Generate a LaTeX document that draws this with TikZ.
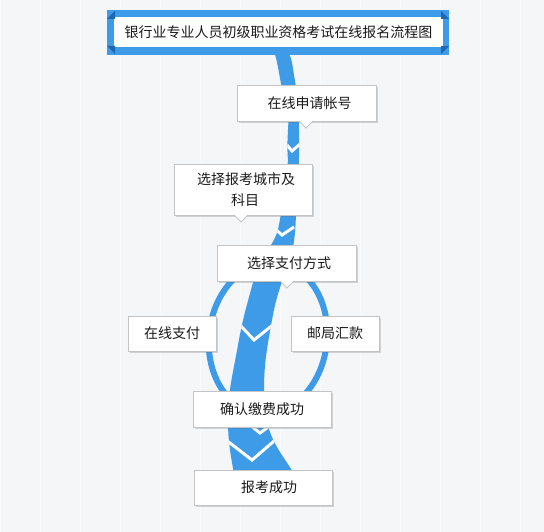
\documentclass[tikz,border=0pt]{standalone}
\usepackage{fontspec}
\setmainfont{Noto Sans CJK SC}
\usetikzlibrary{shadows}
\definecolor{bg}{HTML}{F4F6F8}
\definecolor{bandblue}{HTML}{3E9BE8}
\definecolor{darkblue}{HTML}{1D68B4}
\definecolor{boxline}{HTML}{C4C4C4}
\definecolor{txt}{HTML}{1A1A1A}
\tikzset{
  stepbox/.style={draw=boxline, line width=0.8pt, fill=white, inner sep=0pt,
    text=txt, font=\fontsize{14}{21}\selectfont,
    drop shadow={shadow xshift=2pt, shadow yshift=-2pt, opacity=0.25, fill=black!60}},
  chev/.style={draw=white, line width=3pt, line join=miter},
  notch/.style={fill=white},
  notchline/.style={draw=boxline, line width=0.8pt},
}
\newcommand{\bandpath}{(270,52) to[out=70,in=-105] (288,100) to[out=-85,in=95] (288,160)
  to[out=-95,in=80] (279,225) to[out=-100,in=75] (255,275) to[out=-105,in=80] (238,345)
  to[out=-100,in=90] (228,420) to[out=-90,in=100] (234,474) -- (294,474)
  to[out=120,in=-70] (270,432) to[out=110,in=-90] (264,390) to[out=90,in=-100] (272,320)
  to[out=80,in=-110] (288,265) to[out=70,in=-95] (297,200) to[out=85,in=-90] (299,130)
  to[out=90,in=-80] (294,75) to[out=100,in=-60] (288,52) -- cycle}
\begin{document}
\begin{tikzpicture}[x=1pt,y=-1pt]
\useasboundingbox (0,0) rectangle (544,532);
\fill[bg] (0,0) rectangle (544,532);
\draw[white!45!bg, line width=0.5pt] (0,0) grid[step=40] (544,532);
% loop
\draw[bandblue, line width=6pt, rotate around={-7:(268,338)}] (268,338) ellipse [x radius=59, y radius=76];
% main band
\fill[bandblue] \bandpath;
\begin{scope}
\clip \bandpath;
\draw[chev] (287,145) -- (292,151) -- (300,144);
\draw[chev] (274,228) -- (282,235) -- (294,227);
\draw[chev] (240,325) -- (254,340) -- (274,324);
\draw[chev] (250,425) -- (260,433) -- (275,422);
\draw[chev] (226,440) -- (252,460) -- (280,436);
\end{scope}
% title
\fill[bandblue] (107,10) rectangle (449,55);
\node[fill=white, minimum width=329pt, minimum height=30pt, inner sep=0pt, text=txt,
  font=\fontsize{14}{16}\selectfont] (title) at (278.5,32.5) {银行业专业人员初级职业资格考试在线报名流程图};
\fill[darkblue] (107,19) -- (115,11) -- (115,19) -- cycle;
\fill[darkblue] (107,46) -- (115,46) -- (115,54) -- cycle;
\fill[darkblue] (449,19) -- (441,11) -- (441,19) -- cycle;
\fill[darkblue] (449,46) -- (441,46) -- (441,54) -- cycle;
% boxes
\node[stepbox, minimum width=139pt, minimum height=36pt] (b1) at (306.5,103) {\hspace{6pt}在线申请帐号};
\fill[notch] (298.5,120) -- (313.5,120) -- (306,127.5) -- cycle;
\draw[notchline] (299,121) -- (306,128) -- (313,121);
\node[stepbox, minimum width=138pt, minimum height=51pt, align=center] (b2) at (243,189.5) {\hspace{6pt}选择报考城市及\\\hspace{4pt}科目};
\fill[notch] (233.5,214) -- (248.5,214) -- (241,221.5) -- cycle;
\draw[notchline] (234,215) -- (241,222) -- (248,215);
\node[stepbox, minimum width=139pt, minimum height=36pt] (b3) at (286.5,263) {\hspace{5pt}选择支付方式};
\fill[notch] (279.5,280) -- (294.5,280) -- (287,287.5) -- cycle;
\draw[notchline] (280,281) -- (287,288) -- (294,281);
\node[stepbox, minimum width=88pt, minimum height=35pt] (b4) at (172,333.5) {在线支付};
\node[stepbox, minimum width=88pt, minimum height=35pt] (b5) at (335,333.5) {邮局汇款};
\node[stepbox, minimum width=138pt, minimum height=36pt] (b6) at (262,409) {确认缴费成功};
\node[stepbox, minimum width=138pt, minimum height=35pt] (b7) at (263,487.5) {\hspace{12pt}报考成功};
\end{tikzpicture}
\end{document}
